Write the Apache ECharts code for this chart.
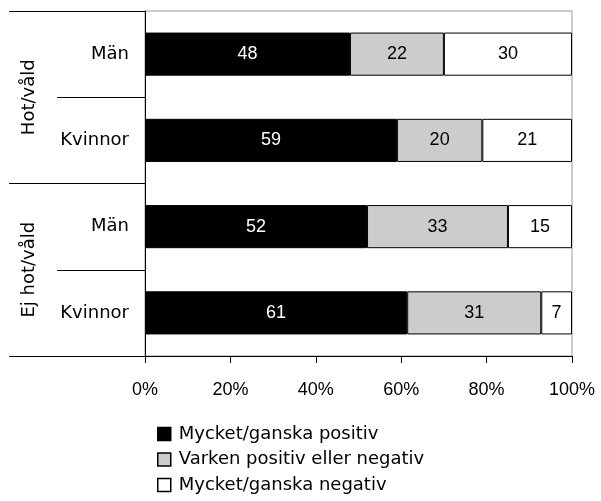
<!DOCTYPE html>
<html>
<head>
<meta charset="utf-8">
<script src="https://cdn.jsdelivr.net/npm/echarts@6/dist/echarts.min.js"></script>
<style>
  html, body { margin: 0; padding: 0; background: #fff; }
  #echarts { width: 601px; height: 501px; }
</style>
</head>
<body>
<div id="echarts"></div>
<script>
// Data
var groups = ['Hot/våld', 'Ej hot/våld'];
var categories = ['Män', 'Kvinnor', 'Män', 'Kvinnor'];
var seriesNames = ['Mycket/ganska positiv', 'Varken positiv eller negativ', 'Mycket/ganska negativ'];
var positiv = [48, 59, 52, 61.4];
var varken = [22, 20, 33, 31.4];
var negativ = [30, 21, 15, 7.2];
var xTicks = [0, 20, 40, 60, 80, 100];

var textFont = 'DejaVu Sans';
var numFont = 'Liberation Sans';

var chart = echarts.init(document.getElementById('echarts'));

// One bar series per answer, stacked to 100
function barSeries(name, data, fill, labelColor) {
    return {
        name: name,
        type: 'bar',
        stack: 'total',
        barWidth: '50%',
        data: data,
        itemStyle: { color: fill, borderColor: '#000', borderWidth: 1 },
        label: {
            show: true,
            position: 'inside',
            color: labelColor,
            fontFamily: numFont,
            fontSize: 18,
            formatter: function (p) { return Math.round(p.value); }
        }
    };
}

var options = {
    backgroundColor: '#fff',
    animation: false,
    grid: {
        left: 145,
        right: 29,
        top: 11,
        bottom: 145,
        show: true,
        borderColor: '#999',
        borderWidth: 1
    },
    legend: {
        orient: 'vertical',
        left: 157,
        top: 425,
        padding: 0,
        itemWidth: 13,
        itemHeight: 13,
        itemGap: 7.5,
        icon: 'rect',
        selectedMode: false,
        textStyle: { fontFamily: textFont, fontSize: 18, color: '#000', padding: [0, 0, 0, 3] },
        data: seriesNames.map(function (n, i) {
            return {
                name: n,
                itemStyle: { color: ['#000', '#ccc', '#fff'][i], borderColor: '#000', borderWidth: 1.5 }
            };
        })
    },
    xAxis: {
        type: 'value',
        min: xTicks[0],
        max: xTicks[xTicks.length - 1],
        interval: xTicks[1] - xTicks[0],
        splitLine: { show: false },
        axisLine: { show: true, lineStyle: { color: '#000', width: 1 } },
        axisTick: { show: true, length: 7, lineStyle: { color: '#000' } },
        axisLabel: {
            formatter: '{value}%',
            margin: 25,
            color: '#000',
            fontFamily: numFont,
            fontSize: 18
        }
    },
    yAxis: [
        {
            type: 'category',
            data: categories,
            inverse: true,
            axisLine: { show: true, lineStyle: { color: '#000', width: 1 } },
            axisTick: { show: true, length: 88, lineStyle: { color: '#000' } },
            axisLabel: { margin: 16, color: '#000', fontFamily: textFont, fontSize: 18 }
        },
        {
            type: 'category',
            data: groups,
            inverse: true,
            position: 'left',
            axisLine: { show: false },
            axisTick: { show: true, length: 136, lineStyle: { color: '#000' } },
            axisLabel: { rotate: 90, margin: 107, color: '#000', fontFamily: textFont, fontSize: 18 }
        }
    ],
    series: [
        barSeries(seriesNames[0], positiv, '#000', '#fff'),
        barSeries(seriesNames[1], varken, '#ccc', '#000'),
        barSeries(seriesNames[2], negativ, '#fff', '#000')
    ]
};

chart.setOption(options);
</script>
</body>
</html>
